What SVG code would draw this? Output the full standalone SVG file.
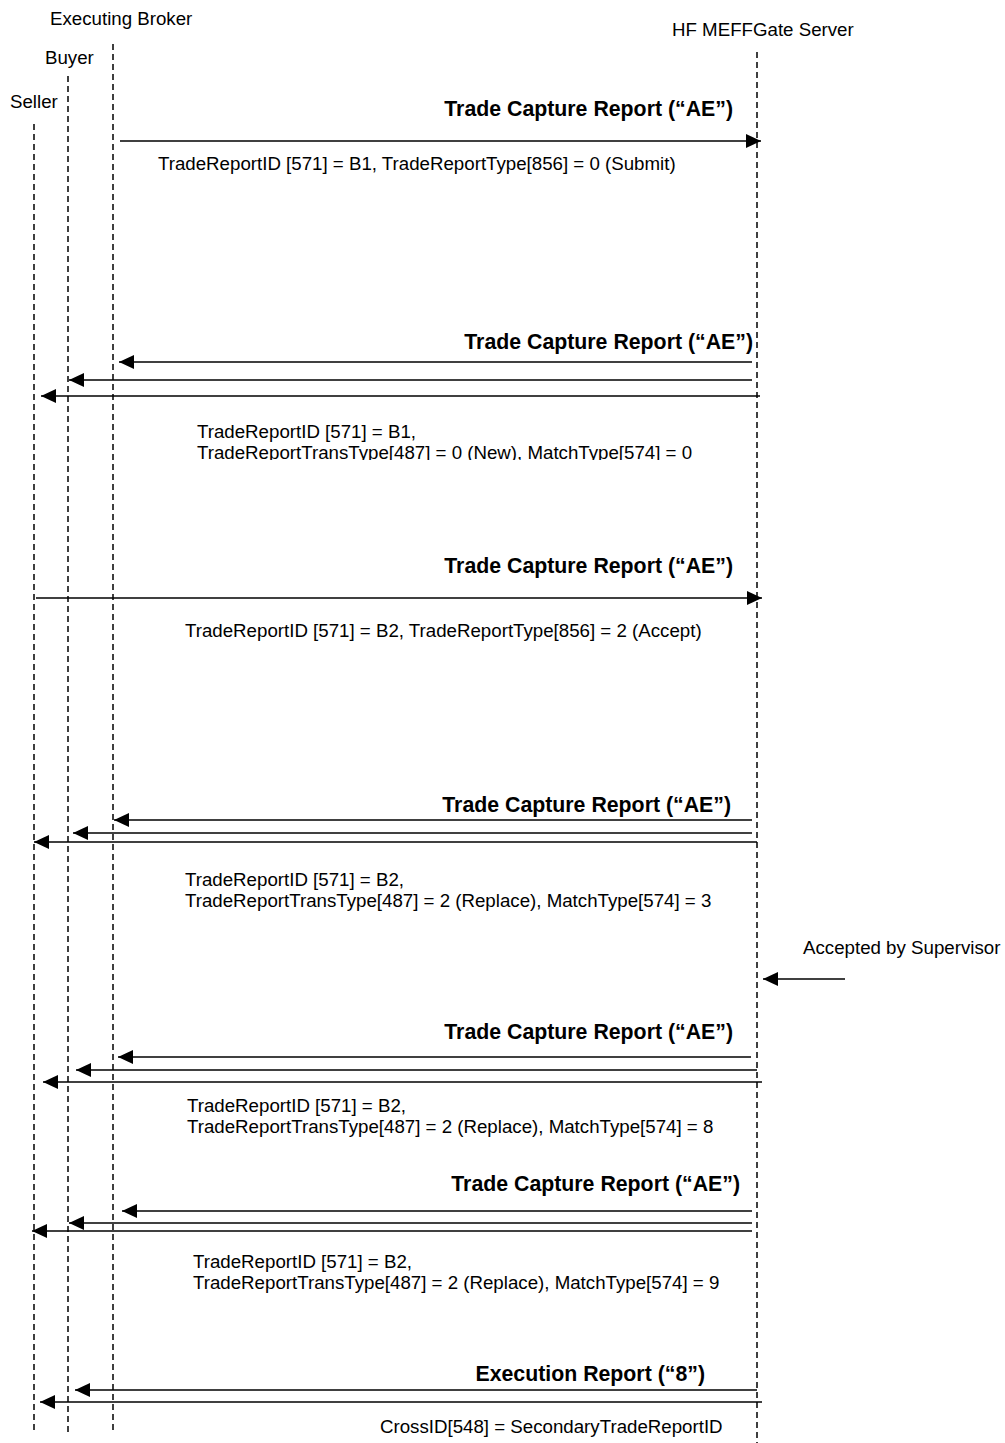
<svg xmlns="http://www.w3.org/2000/svg" width="1005" height="1443" viewBox="0 0 1005 1443">
<style>
text{font-family:"Liberation Sans",Arial,sans-serif;fill:#000}
.t{font-size:18.7px}
.b{font-size:21.3px;font-weight:bold;text-anchor:end}
.life{stroke:#000;stroke-width:1.5;stroke-dasharray:6,4;fill:none}
.msg{stroke:#000;stroke-width:1.6;fill:none;marker-end:url(#ah)}
</style>
<defs>
<marker id="ah" markerUnits="userSpaceOnUse" markerWidth="16" markerHeight="14" refX="15" refY="7" orient="auto">
<path d="M0,0 L15,7 L0,14 z" fill="#000"/>
</marker>
<clipPath id="cl"><rect x="0" y="0" width="1005" height="460"/></clipPath>
</defs>
<g id="seller"><text class="t" x="10" y="108">Seller</text><line class="life" x1="34" y1="124" x2="34" y2="1432"/></g>
<g id="buyer"><text class="t" x="45" y="64">Buyer</text><line class="life" x1="68" y1="76" x2="68" y2="1432"/></g>
<g id="broker"><text class="t" x="50" y="25">Executing Broker</text><line class="life" x1="113" y1="44" x2="113" y2="1432"/></g>
<g id="server"><text class="t" x="672" y="36">HF MEFFGate Server</text><line class="life" x1="757" y1="52" x2="757" y2="1443"/></g>
<g id="connectors">
<line class="msg" x1="120" y1="141" x2="761" y2="141"/>
<text class="b" x="733" y="116">Trade Capture Report (“AE”)</text>
<text class="t" x="158" y="170">TradeReportID [571] = B1, TradeReportType[856] = 0 (Submit)</text>

<line class="msg" x1="752" y1="362" x2="119" y2="362"/>
<line class="msg" x1="752" y1="380" x2="69" y2="380"/>
<line class="msg" x1="760" y1="396" x2="41" y2="396"/>
<text class="b" x="753" y="349">Trade Capture Report (“AE”)</text>
<text class="t" x="197" y="438">TradeReportID [571] = B1,</text>
<text class="t" x="197" y="459" clip-path="url(#cl)">TradeReportTransType[487] = 0 (New), MatchType[574] = 0</text>

<line class="msg" x1="36" y1="598" x2="762" y2="598"/>
<text class="b" x="733" y="573">Trade Capture Report (“AE”)</text>
<text class="t" x="185" y="637">TradeReportID [571] = B2, TradeReportType[856] = 2 (Accept)</text>

<line class="msg" x1="752" y1="820" x2="114" y2="820"/>
<line class="msg" x1="752" y1="833" x2="73" y2="833"/>
<line class="msg" x1="757" y1="842" x2="34" y2="842"/>
<text class="b" x="731" y="812">Trade Capture Report (“AE”)</text>
<text class="t" x="185" y="886">TradeReportID [571] = B2,</text>
<text class="t" x="185" y="907">TradeReportTransType[487] = 2 (Replace), MatchType[574] = 3</text>

<text class="t" x="803" y="954">Accepted by Supervisor</text>
<line class="msg" x1="845" y1="979" x2="763" y2="979"/>

<line class="msg" x1="751" y1="1057" x2="118" y2="1057"/>
<line class="msg" x1="757" y1="1070" x2="76" y2="1070"/>
<line class="msg" x1="762" y1="1082" x2="43" y2="1082"/>
<text class="b" x="733" y="1039">Trade Capture Report (“AE”)</text>
<text class="t" x="187" y="1112">TradeReportID [571] = B2,</text>
<text class="t" x="187" y="1133">TradeReportTransType[487] = 2 (Replace), MatchType[574] = 8</text>

<line class="msg" x1="752" y1="1211" x2="122" y2="1211"/>
<line class="msg" x1="752" y1="1223" x2="69" y2="1223"/>
<line class="msg" x1="752" y1="1231" x2="32" y2="1231"/>
<text class="b" x="740" y="1191">Trade Capture Report (“AE”)</text>
<text class="t" x="193" y="1268">TradeReportID [571] = B2,</text>
<text class="t" x="193" y="1289">TradeReportTransType[487] = 2 (Replace), MatchType[574] = 9</text>

<line class="msg" x1="757" y1="1390" x2="75" y2="1390"/>
<line class="msg" x1="762" y1="1402" x2="40" y2="1402"/>
<text class="b" x="705" y="1381">Execution Report (“8”)</text>
<text class="t" x="380" y="1433">CrossID[548] = SecondaryTradeReportID</text>
</g>
</svg>
